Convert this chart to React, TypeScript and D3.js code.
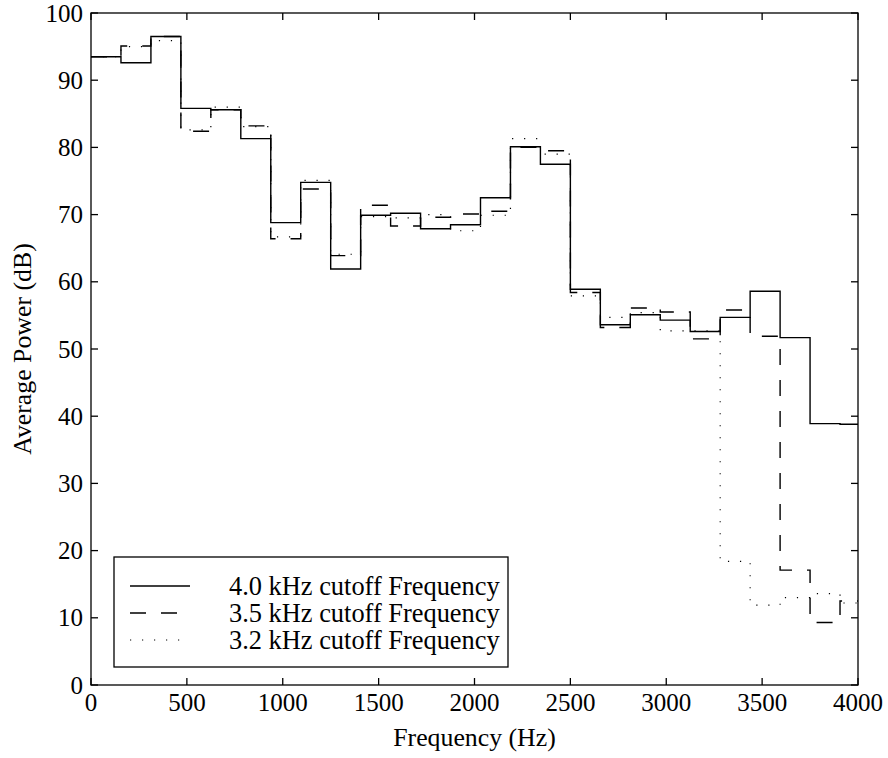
import React from "react";
import * as d3 from "d3";

const bandStarts = [0, 156.25, 312.5, 468.75, 625, 781.25, 937.5, 1093.75, 1250, 1406.25, 1562.5, 1718.75, 1875, 2031.25, 2187.5, 2343.75, 2500, 2656.25, 2812.5, 2968.75, 3125, 3281.25, 3437.5, 3593.75, 3750, 3906.25];
const freqMax = 4000;

const cutoff40 = [93.5, 92.6, 96.5, 85.8, 85.6, 81.3, 68.8, 74.8, 61.9, 69.9, 70.2, 67.9, 68.5, 72.5, 80.1, 77.5, 58.9, 53.6, 55.1, 54.3, 52.6, 54.7, 58.6, 51.7, 38.9, 38.8];
const cutoff35 = [93.5, 95.1, 96.5, 82.4, 85.6, 83.2, 66.4, 73.8, 63.9, 71.4, 68.3, 69.6, 70.1, 70.5, 80.0, 79.5, 58.4, 53.2, 56.1, 55.5, 51.5, 55.8, 51.9, 17.1, 9.3, 12.5];
const cutoff32 = [93.5, 95.0, 95.9, 82.6, 86.0, 83.1, 66.7, 75.1, 64.1, 69.7, 69.5, 70.0, 67.6, 69.9, 81.3, 79.0, 57.9, 54.7, 55.4, 52.7, 52.7, 18.4, 11.9, 13.0, 13.6, 12.2];

const seriesNames = ["4.0 kHz cutoff Frequency", "3.5 kHz cutoff Frequency", "3.2 kHz cutoff Frequency"];
const xTicks = [0, 500, 1000, 1500, 2000, 2500, 3000, 3500, 4000];
const yTicks = [0, 10, 20, 30, 40, 50, 60, 70, 80, 90, 100];

const W = 888, H = 758;
const left = 91, right = 858, top = 13, bottom = 685;
const FONT = "'Liberation Serif', 'Times New Roman', serif";

export default function App() {
  const x = d3.scaleLinear().domain([0, freqMax]).range([left, right]);
  const y = d3.scaleLinear().domain([0, 100]).range([bottom, top]);

  const series = [
    { name: seriesNames[0], values: cutoff40, dash: "none", width: 1.4 },
    { name: seriesNames[1], values: cutoff35, dash: "16,15", width: 1.4 },
    { name: seriesNames[2], values: cutoff32, dash: "1.2,10.8", width: 1.2 },
  ];

  const line = d3
    .line<[number, number]>()
    .x((d) => x(d[0]))
    .y((d) => y(d[1]))
    .curve(d3.curveStepAfter);

  const pathFor = (vals: number[]) => {
    const pts: [number, number][] = bandStarts.map((f, i) => [f, vals[i]]);
    pts.push([freqMax, vals[vals.length - 1]]);
    return line(pts) || "";
  };

  const tickLen = 7;
  const legX = 114, legY = 557, legW = 394, legH = 110;
  const rowY = [586, 613, 640];

  return (
    <svg width={W} height={H} style={{ position: "absolute", left: 0, top: 0, background: "#fff" }} fontFamily={FONT}>
      <rect x={0} y={0} width={W} height={H} fill="#fff" />
      <defs>
        <clipPath id="plotclip">
          <rect x={left} y={top} width={right - left} height={bottom - top} />
        </clipPath>
      </defs>
      <g clipPath="url(#plotclip)">
        {series.map((s, i) => (
          <path key={i} d={pathFor(s.values)} fill="none" stroke="#000" strokeWidth={s.width} strokeDasharray={s.dash} />
        ))}
      </g>
      <rect x={left} y={top} width={right - left} height={bottom - top} fill="none" stroke="#000" strokeWidth={1.3} />
      {xTicks.map((t) => (
        <g key={"xt" + t}>
          <line x1={x(t)} x2={x(t)} y1={bottom} y2={bottom - tickLen} stroke="#000" strokeWidth={1.3} />
          <line x1={x(t)} x2={x(t)} y1={top} y2={top + tickLen} stroke="#000" strokeWidth={1.3} />
          <text x={x(t)} y={bottom + 26} textAnchor="middle" fontSize={25}>{t}</text>
        </g>
      ))}
      {yTicks.map((t) => (
        <g key={"yt" + t}>
          <line x1={left} x2={left + tickLen} y1={y(t)} y2={y(t)} stroke="#000" strokeWidth={1.3} />
          <line x1={right} x2={right - tickLen} y1={y(t)} y2={y(t)} stroke="#000" strokeWidth={1.3} />
          <text x={left - 8} y={y(t) + 8.5} textAnchor="end" fontSize={25}>{t}</text>
        </g>
      ))}
      <text x={(left + right) / 2} y={746} textAnchor="middle" fontSize={25.8}>Frequency (Hz)</text>
      <text transform={`translate(31, ${(top + bottom) / 2}) rotate(-90)`} textAnchor="middle" fontSize={25.8}>Average Power (dB)</text>
      <rect x={legX} y={legY} width={legW} height={legH} fill="#fff" stroke="#000" strokeWidth={1.3} />
      {series.map((s, i) => (
        <g key={"lg" + i}>
          <line x1={130} x2={190} y1={rowY[i]} y2={rowY[i]} stroke="#000" strokeWidth={s.width} strokeDasharray={s.dash} />
          <text x={229} y={rowY[i] + 8.5} fontSize={26.4}>{s.name}</text>
        </g>
      ))}
    </svg>
  );
}
